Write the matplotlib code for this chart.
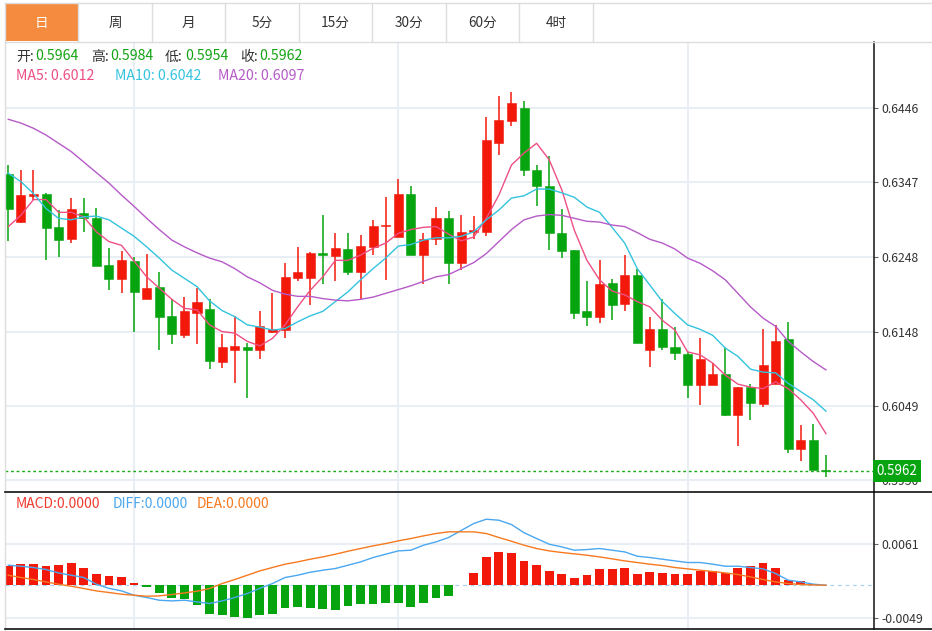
import matplotlib
matplotlib.use('Agg')
import matplotlib.pyplot as plt
from matplotlib.patches import Rectangle
import numpy as np

plt.rcParams['font.family'] = ['Noto Sans CJK SC', 'DejaVu Sans']

# daily candles
opens = [0.6358, 0.6294, 0.6329, 0.6331, 0.6287, 0.6272, 0.6306, 0.6300, 0.6237, 0.6218,
         0.6242, 0.6191, 0.6207, 0.6169, 0.6144, 0.6173, 0.6178, 0.6108, 0.6124, 0.6127,
         0.6123, 0.6147, 0.6150, 0.6220, 0.6219, 0.6253, 0.6249, 0.6258, 0.6227, 0.6261,
         0.6289, 0.6274, 0.6331, 0.6250, 0.6271, 0.6299, 0.6240, 0.6281, 0.6281, 0.6400,
         0.6429, 0.6446, 0.6363, 0.6342, 0.6280, 0.6257, 0.6176, 0.6167, 0.6213, 0.6185,
         0.6223, 0.6124, 0.6151, 0.6127, 0.6118, 0.6077, 0.6077, 0.6091, 0.6037, 0.6074,
         0.6051, 0.6078, 0.6138, 0.5992, 0.6003, 0.5964]
highs = [0.6370, 0.6363, 0.6363, 0.6333, 0.6310, 0.6326, 0.6326, 0.6313, 0.6259, 0.6255,
         0.6247, 0.6251, 0.6227, 0.6191, 0.6194, 0.6206, 0.6191, 0.6145, 0.6169, 0.6133,
         0.6176, 0.6200, 0.6239, 0.6261, 0.6254, 0.6303, 0.6279, 0.6279, 0.6277, 0.6297,
         0.6328, 0.6352, 0.6342, 0.6280, 0.6314, 0.6309, 0.6304, 0.6302, 0.6434, 0.6462,
         0.6468, 0.6456, 0.6370, 0.6382, 0.6312, 0.6257, 0.6215, 0.6243, 0.6218, 0.6250,
         0.6232, 0.6167, 0.6192, 0.6154, 0.6121, 0.6140, 0.6106, 0.6128, 0.6074, 0.6078,
         0.6152, 0.6157, 0.6161, 0.6024, 0.6025, 0.5984]
lows = [0.6269, 0.6293, 0.6323, 0.6243, 0.6247, 0.6266, 0.6281, 0.6236, 0.6203, 0.6199,
        0.6147, 0.6191, 0.6124, 0.6131, 0.6139, 0.6131, 0.6098, 0.6099, 0.6080, 0.6060,
        0.6112, 0.6146, 0.6140, 0.6216, 0.6184, 0.6211, 0.6215, 0.6223, 0.6192, 0.6250,
        0.6217, 0.6274, 0.6250, 0.6212, 0.6263, 0.6212, 0.6230, 0.6271, 0.6275, 0.6383,
        0.6422, 0.6355, 0.6315, 0.6257, 0.6246, 0.6165, 0.6156, 0.6159, 0.6163, 0.6176,
        0.6133, 0.6101, 0.6123, 0.6110, 0.6060, 0.6050, 0.6077, 0.6035, 0.5996, 0.6030,
        0.6048, 0.6078, 0.5986, 0.5976, 0.5964, 0.5954]
closes = [0.6311, 0.6330, 0.6331, 0.6286, 0.6270, 0.6312, 0.6299, 0.6236, 0.6218, 0.6243,
          0.6201, 0.6206, 0.6168, 0.6145, 0.6175, 0.6187, 0.6109, 0.6127, 0.6129, 0.6123,
          0.6155, 0.6151, 0.6221, 0.6227, 0.6253, 0.6250, 0.6260, 0.6227, 0.6262, 0.6289,
          0.6290, 0.6331, 0.6250, 0.6271, 0.6299, 0.6240, 0.6281, 0.6283, 0.6403, 0.6430,
          0.6453, 0.6363, 0.6342, 0.6279, 0.6256, 0.6173, 0.6167, 0.6211, 0.6183, 0.6224,
          0.6133, 0.6151, 0.6127, 0.6119, 0.6077, 0.6111, 0.6092, 0.6037, 0.6074, 0.6053,
          0.6103, 0.6136, 0.5992, 0.6003, 0.5964, 0.5962]

ma5 = [0.6288, 0.6303, 0.6324, 0.6324, 0.6307, 0.6307, 0.6301, 0.6281, 0.6268, 0.6263,
       0.6242, 0.6221, 0.6206, 0.6191, 0.6179, 0.6177, 0.6157, 0.6148, 0.6146, 0.6135,
       0.6129, 0.6139, 0.6157, 0.6181, 0.6203, 0.6221, 0.6243, 0.6243, 0.6250, 0.6259,
       0.6266, 0.6279, 0.6284, 0.6287, 0.6288, 0.6278, 0.6269, 0.6274, 0.6299, 0.6330,
       0.6370, 0.6386, 0.6399, 0.6377, 0.6337, 0.6283, 0.6243, 0.6217, 0.6202, 0.6197,
       0.6188, 0.6181, 0.6163, 0.6150, 0.6121, 0.6117, 0.6106, 0.6090, 0.6078, 0.6074,
       0.6072, 0.6081, 0.6072, 0.6057, 0.6039, 0.6012]
ma10 = [0.6359, 0.6348, 0.6332, 0.6312, 0.6299, 0.6297, 0.6301, 0.6302, 0.6297, 0.6286,
        0.6275, 0.6261, 0.6246, 0.6230, 0.6219, 0.6208, 0.6189, 0.6176, 0.6168, 0.6157,
        0.6154, 0.6150, 0.6152, 0.6161, 0.6169, 0.6175, 0.6188, 0.6201, 0.6217, 0.6232,
        0.6246, 0.6262, 0.6264, 0.6270, 0.6273, 0.6273, 0.6275, 0.6281, 0.6297, 0.6310,
        0.6326, 0.6329, 0.6338, 0.6338, 0.6333, 0.6327, 0.6314, 0.6307, 0.6287, 0.6266,
        0.6232, 0.6210, 0.6188, 0.6172, 0.6157, 0.6151, 0.6143, 0.6126, 0.6115, 0.6098,
        0.6094, 0.6093, 0.6079, 0.6068, 0.6057, 0.6042]
ma20 = [0.6431, 0.6426, 0.6419, 0.6410, 0.6399, 0.6388, 0.6374, 0.6360, 0.6346, 0.6330,
        0.6315, 0.6299, 0.6284, 0.6270, 0.6261, 0.6253, 0.6246, 0.6241, 0.6232, 0.6221,
        0.6213, 0.6203, 0.6198, 0.6195, 0.6195, 0.6192, 0.6190, 0.6189, 0.6191, 0.6194,
        0.6199, 0.6204, 0.6209, 0.6215, 0.6221, 0.6224, 0.6232, 0.6240, 0.6252, 0.6268,
        0.6284, 0.6297, 0.6302, 0.6304, 0.6303, 0.6299, 0.6295, 0.6294, 0.6290, 0.6288,
        0.6280, 0.6271, 0.6266, 0.6258, 0.6246, 0.6239, 0.6229, 0.6217, 0.6199, 0.6181,
        0.6166, 0.6155, 0.6135, 0.6121, 0.6108, 0.6097]

macd = [0.00281, 0.00311, 0.00311, 0.00281, 0.00296, 0.00330, 0.00262, 0.00173, 0.00143, 0.00118,
        0.00030, -0.00025, -0.00114, -0.00182, -0.00209, -0.00296, -0.00426, -0.00446, -0.00469, -0.00478,
        -0.00441, -0.00419, -0.00336, -0.00321, -0.00338, -0.00346, -0.00365, -0.00311, -0.00277, -0.00277,
        -0.00264, -0.00259, -0.00323, -0.00259, -0.00195, -0.00158, 0.00010, 0.00188, 0.00422, 0.00489,
        0.00481, 0.00363, 0.00296, 0.00212, 0.00163, 0.00109, 0.00158, 0.00235, 0.00235, 0.00250,
        0.00163, 0.00193, 0.00180, 0.00173, 0.00163, 0.00217, 0.00207, 0.00182, 0.00262, 0.00284,
        0.00324, 0.00256, 0.00077, 0.00059, 0.00015, 0.0]
diff = [0.00296, 0.00281, 0.00262, 0.00232, 0.00182, 0.00148, 0.00114, 0.00015, -0.00046, -0.00084,
        -0.00148, -0.00182, -0.00222, -0.00232, -0.00222, -0.00247, -0.00271, -0.00232, -0.00182, -0.00123,
        -0.00046, 0.00025, 0.00114, 0.00148, 0.00192, 0.00222, 0.00247, 0.00296, 0.00345, 0.00410,
        0.00459, 0.00508, 0.00518, 0.00592, 0.00641, 0.00706, 0.00810, 0.00913, 0.00977, 0.00962,
        0.00898, 0.00777, 0.00691, 0.00607, 0.00567, 0.00518, 0.00528, 0.00543, 0.00518, 0.00493,
        0.00429, 0.00410, 0.00385, 0.00360, 0.00336, 0.00336, 0.00311, 0.00281, 0.00281, 0.00262,
        0.00242, 0.00173, 0.00074, 0.00049, 0.00015, 0.0]
dea = [0.00148, 0.00114, 0.00084, 0.00049, 0.00015, -0.00015, -0.00049, -0.00084, -0.00108, -0.00133,
       -0.00148, -0.00163, -0.00158, -0.00138, -0.00114, -0.00089, -0.00049, 0.00025, 0.00084, 0.00148,
       0.00212, 0.00262, 0.00311, 0.00345, 0.00385, 0.00419, 0.00459, 0.00503, 0.00543, 0.00582,
       0.00617, 0.00656, 0.00691, 0.00730, 0.00765, 0.00790, 0.00790, 0.00790, 0.00765, 0.00706,
       0.00651, 0.00592, 0.00543, 0.00508, 0.00484, 0.00464, 0.00444, 0.00419, 0.00390, 0.00360,
       0.00336, 0.00311, 0.00291, 0.00262, 0.00242, 0.00222, 0.00203, 0.00182, 0.00158, 0.00123,
       0.00084, 0.00049, 0.00025, 0.00010, 0.00003, 0.0]

price_ticks = [0.5950, 0.6049, 0.6148, 0.6248, 0.6347, 0.6446]
macd_ticks = [-0.0049, 0.0061]
month_starts = [10, 31, 54]
tabs = ['日', '周', '月', '5分', '15分', '30分', '60分', '4时']

RED = '#f2190b'
GREEN = '#06a40f'
GRID = '#e8eef4'

W, H = 932, 631
fig = plt.figure(figsize=(W / 100, H / 100), dpi=100)


def rect(x0, y0, x1, y1):
    return [x0 / W, 1 - y1 / H, (x1 - x0) / W, (y1 - y0) / H]


ax = fig.add_axes(rect(5, 42, 874, 491.5))
ax2 = fig.add_axes(rect(5, 491.5, 874, 629), sharex=ax)

x = np.arange(len(closes))
o = np.array(opens)
c = np.array(closes)
up = c >= o
cols = [RED if u else GREEN for u in up]

# candles
ax.vlines(x, lows, highs, colors=cols, lw=1.1, zorder=3)
body_h = np.maximum(np.abs(c - o), 0.00016)
ax.bar(x, body_h, bottom=np.minimum(o, c), width=0.72, color=cols,
       edgecolor=cols, lw=0.4, zorder=4)

ax.plot(x, ma5, color='#ee4f84', lw=1.0, zorder=5)
ax.plot(x, ma10, color='#33c3de', lw=1.0, zorder=5)
ax.plot(x, ma20, color='#b65ac8', lw=1.0, zorder=5)
ax.axhline(closes[-1], color='#19ab19', lw=1.0, ls=(0, (2, 2)), zorder=6)

ax.set_xlim(-0.262, 68.82)
ax.set_ylim(0.59349, 0.65340)

# macd panel
mcols = [RED if v >= 0 else GREEN for v in macd]
ax2.axhline(0, color='#a9d3ea', lw=0.9, ls=(0, (3, 3)), zorder=1)
ax2.bar(x, macd, width=0.7, color=mcols, zorder=3)
ax2.plot(x, diff, color='#4aa7f0', lw=1.0, zorder=4)
ax2.plot(x, dea, color='#f7791f', lw=1.0, zorder=4)
ax2.set_ylim(-0.00648, 0.01387)

for a, ticks in ((ax, price_ticks), (ax2, macd_ticks)):
    a.set_facecolor('white')
    for s in ('left', 'top', 'bottom'):
        a.spines[s].set_visible(False)
    a.spines['right'].set_color('#111111')
    a.spines['right'].set_linewidth(1.1)
    a.yaxis.tick_right()
    a.set_yticks(ticks)
    a.set_yticklabels([f'{t:.4f}' for t in ticks])
    a.set_xticks(month_starts)
    a.tick_params(axis='x', length=0, labelbottom=False)
    a.tick_params(axis='y', direction='out', length=3, width=0.8, color='#666666',
                  pad=2, labelsize=8.8, labelcolor='#333333')
    a.grid(True, color=GRID, lw=1.5, zorder=0)
    a.set_axisbelow(True)

# current price tag covers the lowest tick label, as in the source
ax.text(1.003, closes[-1], f'{closes[-1]:.4f}', transform=ax.get_yaxis_transform(),
        ha='left', va='center', color='white', fontsize=9.6, zorder=10, clip_on=False,
        bbox=dict(boxstyle='square,pad=0.28', fc=GREEN, ec='none'))

# overlay for tabs, borders, info text (pixel coordinates)
ov = fig.add_axes([0, 0, 1, 1], zorder=5)
ov.set_xlim(0, W)
ov.set_ylim(H, 0)
ov.axis('off')
ov.patch.set_alpha(0)

tab_w = 73.46
ov.add_patch(Rectangle((5, 3.8), tab_w, 37.5, fc='#f48b3e', ec='none'))
ov.plot([5, W], [3.3, 3.3], color='#dddddd', lw=1.0)
ov.plot([5, W], [41.7, 41.7], color='#dddddd', lw=1.0)
for k in range(len(tabs) + 1):
    xx = 5 + k * tab_w
    ov.plot([xx, xx], [3.3, 41.7], color='#dddddd', lw=1.0)
for k, t in enumerate(tabs):
    ov.text(5 + (k + 0.5) * tab_w, 22.5, t, ha='center', va='center', fontsize=9.8,
            color='white' if k == 0 else '#333333')

ov.plot([4.5, 4.5], [42, H], color='#dddddd', lw=1.0)
ov.plot([5, W], [491.5, 491.5], color='#111111', lw=1.2)
ov.plot([5, W], [629, 629], color='#111111', lw=1.2)

row1 = [('开:', opens[-1], 15.8, 34.8), ('高:', highs[-1], 91, 110),
        ('低:', lows[-1], 165, 185), ('收:', closes[-1], 240, 259)]
for lab, val, xl, xv in row1:
    ov.text(xl, 56.5, lab, ha='left', va='center', fontsize=10, color='#333333')
    ov.text(xv, 56.5, f'{val:.4f}', ha='left', va='center', fontsize=10.2, color='#13a313')

row2 = [(f'MA5: {ma5[-1]:.4f}', 15.8, '#ee4f84'), (f'MA10: {ma10[-1]:.4f}', 114.7, '#33c3de'),
        (f'MA20: {ma20[-1]:.4f}', 217.5, '#b65ac8')]
for s, xl, col in row2:
    ov.text(xl, 76, s, ha='left', va='center', fontsize=10.2, color=col)

row3 = [(f'MACD:{macd[-1]:.4f}', 16, '#ef3b30'), (f'DIFF:{diff[-1]:.4f}', 113, '#4aa7f0'),
        (f'DEA:{dea[-1]:.4f}', 197, '#f7791f')]
for s, xl, col in row3:
    ov.text(xl, 503.5, s, ha='left', va='center', fontsize=10, color=col)

fig.savefig('out.png', dpi=100)
